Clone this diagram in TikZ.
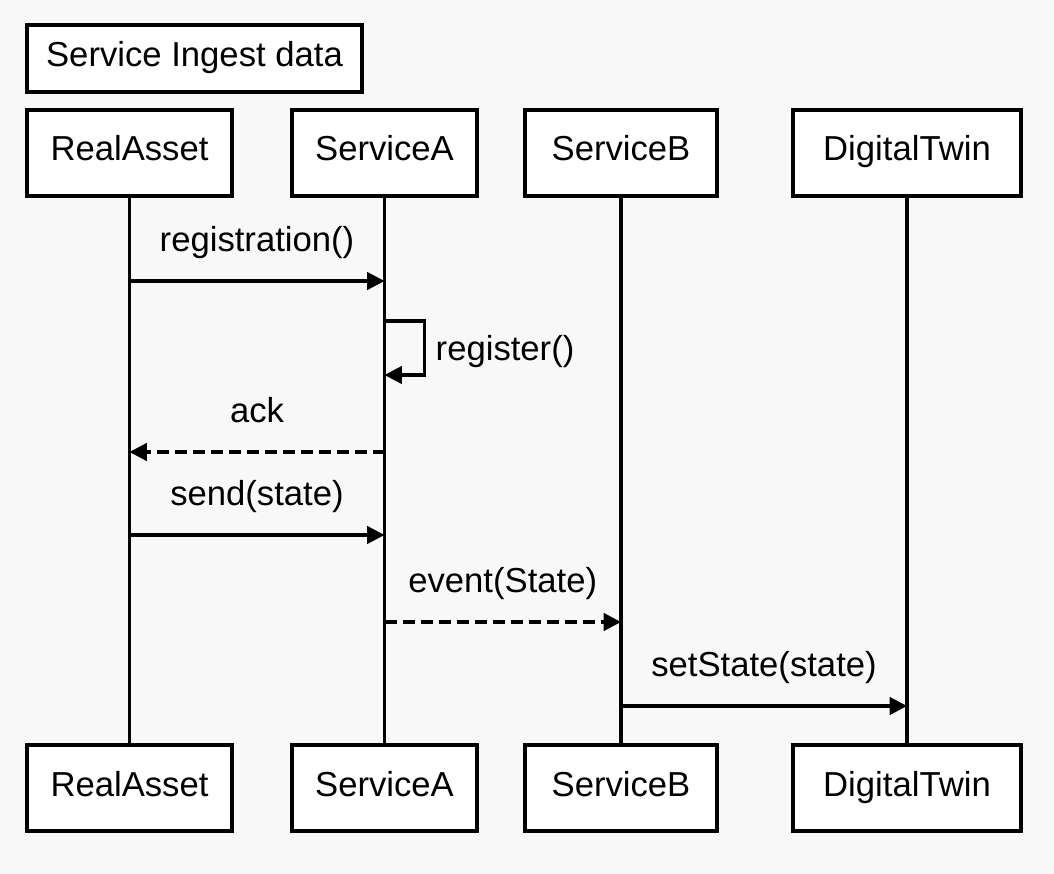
\documentclass[tikz,border=0pt]{standalone}
\usepackage{fontspec}
\setmainfont{Liberation Sans}
\usetikzlibrary{arrows.meta}
\definecolor{paper}{RGB}{248,248,248}

\begin{document}
\begin{tikzpicture}[x=0.75pt,y=-0.75pt,
    part/.style={draw,fill=white,line width=2.6pt,inner sep=0pt,
      minimum height=86*0.75pt,text height=19pt,text depth=7pt,
      font=\fontsize{26}{30}\selectfont},
    life/.style={line width=2.4pt},
    msg/.style={line width=2.4pt,-{Triangle[length=13pt,width=13pt]}},
    reply/.style={msg,dash pattern=on 9pt off 4.5pt},
    lbl/.style={font=\fontsize{26}{30}\selectfont,anchor=base,yshift=22pt}]
  \fill[paper] (0,0) rectangle (1054,874);
  \node[part,minimum width=335*0.75pt,minimum height=67*0.75pt] (title) at (194.5,58.5) {Service Ingest data};
  \foreach \nm/\x/\w/\txt in {ra/129.5/205/RealAsset, sa/384.5/185/ServiceA,
      sb/621/192/ServiceB, dt/907/228/DigitalTwin} {
    \node[part,minimum width=\w*0.75pt] (\nm-top) at (\x,153) {\txt};
    \node[part,minimum width=\w*0.75pt] (\nm-bot) at (\x,788) {\txt};
    \draw[life] (\nm-top) -- (\nm-bot);
  }
  \coordinate (m1) at (0,281);
  \coordinate (m2a) at (0,321);
  \coordinate (m2b) at (0,375);
  \coordinate (m3) at (0,452);
  \coordinate (m4) at (0,535);
  \coordinate (m5) at (0,622);
  \coordinate (m6) at (0,706);
  \draw[msg] (ra-top |- m1) -- node[lbl] {registration()} (sa-top |- m1);
  \draw[msg] (sa-top |- m2a) -- ++(40,0) |- (sa-top |- m2b);
  \node[font=\fontsize{26}{30}\selectfont,anchor=base west] (reglbl) at (431,360) {register()};
  \draw[reply] (sa-top |- m3) -- node[lbl] {ack} (ra-top |- m3);
  \draw[msg] (ra-top |- m4) -- node[lbl] {send(state)} (sa-top |- m4);
  \draw[reply] (sa-top |- m5) -- node[lbl] {event(State)} (sb-top |- m5);
  \draw[msg] (sb-top |- m6) -- node[lbl] {setState(state)} (dt-top |- m6);
\end{tikzpicture}
\end{document}
